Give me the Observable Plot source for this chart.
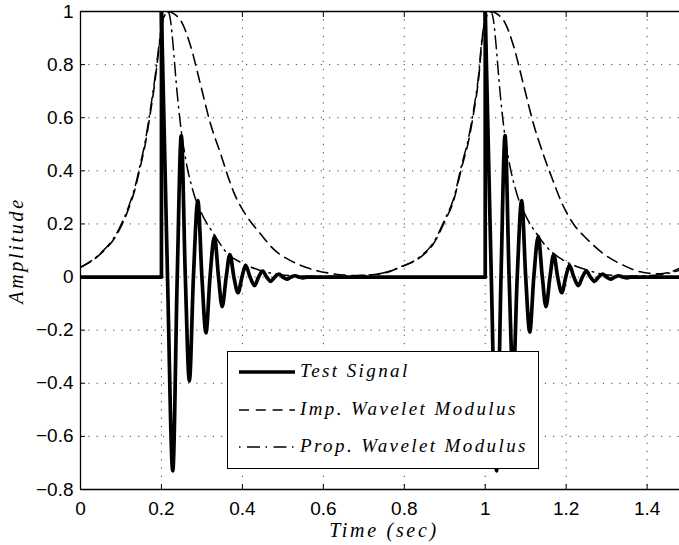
<!DOCTYPE html>
<html>
<head>
<meta charset="utf-8">
<script src="https://cdn.jsdelivr.net/npm/d3@7"></script>
<script src="https://cdn.jsdelivr.net/npm/@observablehq/plot@0.6"></script>
<style>
  body { margin: 0; background: #fff; }
  #wrap { position: relative; width: 679px; height: 545px; overflow: hidden; }
  .math { font-family: "Liberation Serif", "Times New Roman", serif; font-style: italic; letter-spacing: 2.4px; font-size: 19px; }
  #legend { position: absolute; left: 227px; top: 351px; width: 312px; height: 118px; box-sizing: border-box; border: 1.3px solid #000; background: #fff; }
  #legend .row { position: absolute; left: 0; width: 310px; height: 24px; }
  #legend svg { position: absolute; left: 10px; top: 7px; }
  #legend .lbl { position: absolute; left: 72px; top: -1px; line-height: 24px; white-space: nowrap; color: #000; }
</style>
</head>
<body>
<div id="wrap"></div>
<script>
// ---- axes ----
const xDomain = [0, 1.48];
const yDomain = [-0.8, 1];
const xTicks = [0, 0.2, 0.4, 0.6, 0.8, 1, 1.2, 1.4];
const xTickLabels = ["0", "0.2", "0.4", "0.6", "0.8", "1", "1.2", "1.4"];
const yTicks = [-0.8, -0.6, -0.4, -0.2, 0, 0.2, 0.4, 0.6, 0.8, 1];
const yTickLabels = ["\u22120.8", "\u22120.6", "\u22120.4", "\u22120.2", "0", "0.2", "0.4", "0.6", "0.8", "1"];
const xLabel = "Time (sec)";
const yLabel = "Amplitude";
const seriesNames = ["Test Signal", "Imp. Wavelet Modulus", "Prop. Wavelet Modulus"];

// ---- test signal: [time, amplitude] ----
const signalStep1 = [[0, 0], [0.2, 0], [0.2, 1]];
const signalOsc1 = [
  [0.2, 1], [0.215, 0], [0.228, -0.73], [0.239, 0], [0.249, 0.533], [0.259, 0],
  [0.269, -0.392], [0.279, 0], [0.290, 0.288], [0.300, 0], [0.310, -0.21], [0.320, 0],
  [0.331, 0.153], [0.341, 0], [0.350, -0.111], [0.360, 0], [0.369, 0.085], [0.379, 0],
  [0.389, -0.059], [0.399, 0], [0.408, 0.044], [0.419, 0], [0.430, -0.032], [0.440, 0],
  [0.450, 0.022], [0.460, 0], [0.470, -0.016], [0.480, 0], [0.490, 0.011], [0.500, 0],
  [0.510, -0.008], [0.520, 0], [0.530, 0.005], [0.540, 0], [0.550, -0.003], [0.560, 0],
  [1.0, 0]
];
const signalStep2 = [[1.0, 0], [1.0, 1]];
const signalOsc2 = [
  [1.0, 1], [1.015, 0], [1.028, -0.73], [1.039, 0], [1.049, 0.533], [1.059, 0],
  [1.069, -0.392], [1.079, 0], [1.090, 0.288], [1.100, 0], [1.110, -0.207], [1.120, 0],
  [1.131, 0.153], [1.141, 0], [1.150, -0.111], [1.160, 0], [1.169, 0.085], [1.179, 0],
  [1.189, -0.059], [1.199, 0], [1.208, 0.044], [1.219, 0], [1.230, -0.032], [1.240, 0],
  [1.250, 0.022], [1.260, 0], [1.270, -0.016], [1.280, 0], [1.290, 0.011], [1.300, 0],
  [1.310, -0.008], [1.320, 0], [1.330, 0.005], [1.340, 0], [1.350, -0.003], [1.360, 0],
  [1.48, 0]
];

// ---- improved wavelet modulus (dashed) ----
const impModulus = [
  [0, 0.037], [0.044, 0.08], [0.094, 0.172], [0.119, 0.258], [0.135, 0.333], [0.147, 0.41],
  [0.16, 0.5], [0.172, 0.612], [0.183, 0.725], [0.193, 0.85], [0.2, 0.935], [0.207, 0.985],
  [0.218, 1.0], [0.232, 0.99], [0.25, 0.96], [0.272, 0.87], [0.296, 0.728], [0.321, 0.578],
  [0.346, 0.465], [0.379, 0.318], [0.412, 0.226], [0.444, 0.164], [0.477, 0.105], [0.519, 0.062],
  [0.56, 0.035], [0.617, 0.014], [0.675, 0.006], [0.741, 0.012], [0.79, 0.037], [0.84, 0.075],
  [0.872, 0.125], [0.901, 0.213], [0.922, 0.288], [0.942, 0.414], [0.959, 0.514], [0.971, 0.615],
  [0.984, 0.753], [0.992, 0.89], [0.998, 0.95], [1.006, 0.99], [1.016, 1.0], [1.03, 0.99],
  [1.048, 0.96], [1.07, 0.87], [1.094, 0.728], [1.119, 0.578], [1.146, 0.451], [1.169, 0.357],
  [1.189, 0.28], [1.218, 0.2], [1.251, 0.144], [1.292, 0.088], [1.342, 0.044], [1.383, 0.02],
  [1.432, 0.012], [1.455, 0.018], [1.48, 0.033]
];

// ---- proposed wavelet modulus (dash-dot) ----
const propModulus = [
  [0, 0.037], [0.044, 0.082], [0.094, 0.178], [0.119, 0.266], [0.135, 0.342], [0.147, 0.42],
  [0.16, 0.512], [0.172, 0.625], [0.183, 0.74], [0.193, 0.862], [0.2, 0.94], [0.208, 0.985],
  [0.216, 1.0], [0.222, 0.97], [0.229, 0.87], [0.236, 0.74], [0.247, 0.575], [0.259, 0.451],
  [0.28, 0.314], [0.304, 0.225], [0.329, 0.163], [0.362, 0.09], [0.403, 0.05], [0.444, 0.025],
  [0.494, 0.009], [0.55, 0.004], [0.62, 0.003], [0.68, 0.005], [0.741, 0.013], [0.79, 0.038],
  [0.84, 0.078], [0.872, 0.13], [0.901, 0.22], [0.922, 0.296], [0.942, 0.424], [0.959, 0.525],
  [0.971, 0.628], [0.984, 0.765], [0.992, 0.9], [0.998, 0.955], [1.006, 0.99], [1.014, 1.0],
  [1.02, 0.97], [1.027, 0.87], [1.034, 0.74], [1.045, 0.575], [1.057, 0.451], [1.078, 0.314],
  [1.102, 0.225], [1.127, 0.163], [1.152, 0.113], [1.181, 0.075], [1.21, 0.05], [1.243, 0.031],
  [1.294, 0.01], [1.35, 0.004], [1.42, 0.007], [1.48, 0.025]
];

const X = d => d[0], Y = d => d[1];
const ink = "#000";
const serif = '"Liberation Serif", "Times New Roman", serif';
const signalStyle = {x: X, y: Y, stroke: ink, strokeWidth: 3.7, clip: true};
const gridStyle = {stroke: "#000", strokeOpacity: 0.75, strokeWidth: 1, strokeDasharray: "1.2,7.1"};

const chart = Plot.plot({
  width: 679,
  height: 545,
  marginLeft: 80,
  marginRight: 0,
  marginTop: 11,
  marginBottom: 56,
  x: {domain: xDomain},
  y: {domain: yDomain},
  style: {fontFamily: '"Liberation Sans", Arial, Helvetica, sans-serif', fontSize: "19px", color: "#000", background: "#fff"},
  marks: [
    Plot.gridX(xTicks, gridStyle),
    Plot.gridY(yTicks, gridStyle),
    Plot.line(signalStep1, {...signalStyle, curve: "linear"}),
    Plot.line(signalOsc1, {...signalStyle, curve: "monotone-x"}),
    Plot.line(signalStep2, {...signalStyle, curve: "linear"}),
    Plot.line(signalOsc2, {...signalStyle, curve: "monotone-x"}),
    Plot.line(impModulus, {x: X, y: Y, stroke: ink, strokeWidth: 1.6, strokeDasharray: "11,6.5", curve: "monotone-x", clip: true}),
    Plot.line(propModulus, {x: X, y: Y, stroke: ink, strokeWidth: 1.5, strokeDasharray: "13,5.5,1.5,5.5", curve: "monotone-x", clip: true}),
    Plot.ruleY(yDomain, {stroke: ink, strokeWidth: 1.3}),
    Plot.ruleX([xDomain[0]], {stroke: ink, strokeWidth: 1.3}),
    Plot.axisX(xTicks, {anchor: "bottom", tickSize: -5, tickPadding: 17, tickFormat: d => xTickLabels[xTicks.indexOf(d)], label: null, fontSize: 19}),
    Plot.axisX(xTicks, {anchor: "top", tickSize: -5, tickFormat: () => "", label: null}),
    Plot.axisY(yTicks, {anchor: "left", tickSize: -5, tickPadding: 12, tickFormat: d => yTickLabels[yTicks.indexOf(d)], label: null, fontSize: 19}),
    Plot.text([xLabel], {frameAnchor: "bottom", textAnchor: "middle", lineAnchor: "middle", dy: 41, dx: 4, fontFamily: serif, fontStyle: "italic", fontSize: 20, fill: ink}),
    Plot.text([yLabel], {frameAnchor: "left", textAnchor: "middle", lineAnchor: "middle", dx: -64, rotate: -90, fontFamily: serif, fontStyle: "italic", fontSize: 20, fill: ink})
  ]
});

// letter spacing for the LaTeX-style axis titles
chart.querySelectorAll("text").forEach(t => {
  if (t.textContent === xLabel || t.textContent === yLabel) t.style.letterSpacing = "2.7px";
});

const wrap = document.getElementById("wrap");
wrap.appendChild(chart);

// ---- legend (drawn over the axes, like MATLAB) ----
const legend = document.createElement("div");
legend.id = "legend";
const rowCenters = [20.3, 58, 95.3];
const sampleDash = [null, "10,6.8", "1.5,6.5,13,5.5"];
const sampleWidth = [3.7, 1.6, 1.5];
seriesNames.forEach((name, i) => {
  const row = document.createElement("div");
  row.className = "row";
  row.style.top = (rowCenters[i] - 12) + "px";
  const dash = sampleDash[i] ? ` stroke-dasharray="${sampleDash[i]}"` : "";
  row.innerHTML = `<svg width="58" height="10"><line x1="1" y1="5" x2="57" y2="5" stroke="#000" stroke-width="${sampleWidth[i]}"${dash}/></svg><span class="lbl math">${name}</span>`;
  legend.appendChild(row);
});
wrap.appendChild(legend);
</script>
</body>
</html>
